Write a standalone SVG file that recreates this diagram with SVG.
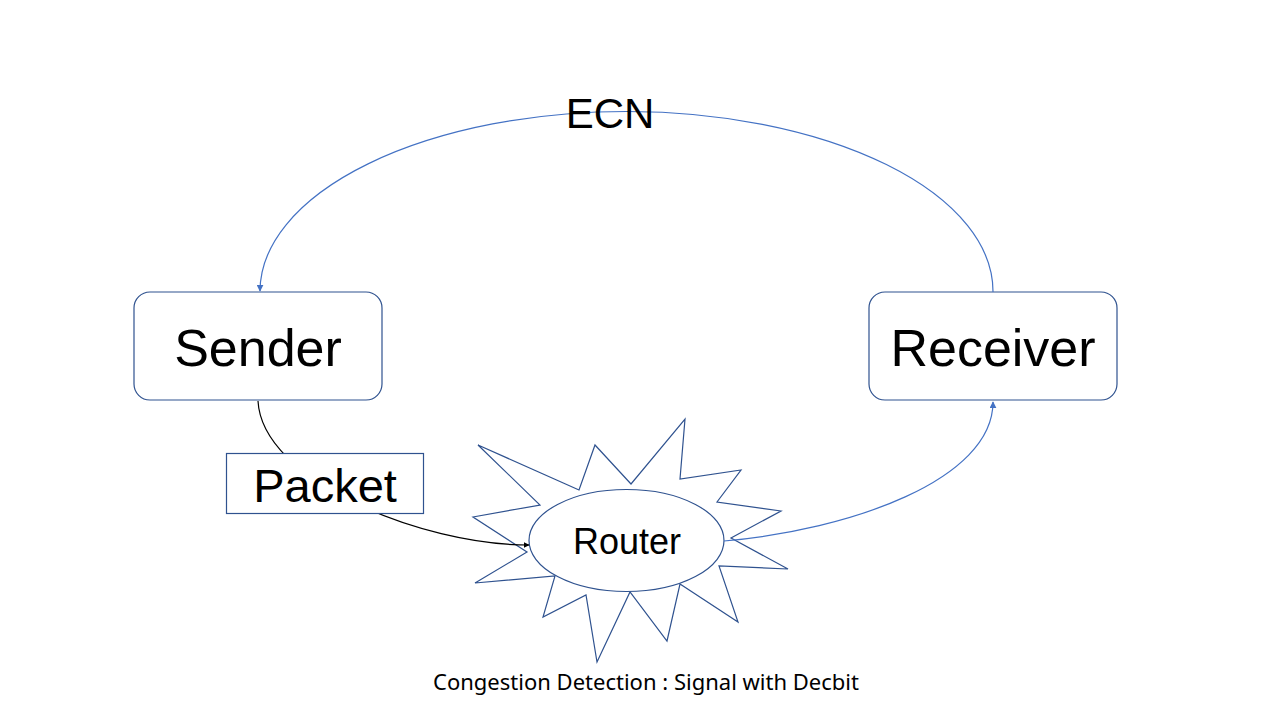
<svg xmlns="http://www.w3.org/2000/svg" width="1280" height="720" viewBox="0 0 1280 720">
<style>
.shape{fill:#fff;stroke:#2F528F;stroke-width:1.2}
.lbl{font-family:"Liberation Sans",Arial,sans-serif;fill:#000;text-anchor:middle}
.blue{fill:none;stroke:#4472C4;stroke-width:1.2}
.black{fill:none;stroke:#000;stroke-width:1.2}
</style>
<defs>
<marker id="ab" viewBox="0 0 10 10" refX="9" refY="5" markerWidth="7" markerHeight="7" markerUnits="userSpaceOnUse" orient="auto"><path d="M0,0 L10,5 L0,10 z" fill="#4472C4"/></marker>
<marker id="ak" viewBox="0 0 10 10" refX="9" refY="5" markerWidth="6" markerHeight="6" markerUnits="userSpaceOnUse" orient="auto"><path d="M0,0 L10,5 L0,10 z" fill="#000"/></marker>
</defs>
<rect width="1280" height="720" fill="#fff"/>
<g id="sender">
<rect class="shape" x="134" y="292" width="248" height="108" rx="16"/>
<text class="lbl" x="258" y="366" font-size="52">Sender</text>
</g>
<g id="receiver">
<rect class="shape" x="869" y="292" width="248" height="108" rx="16"/>
<text class="lbl" x="993" y="366" font-size="52">Receiver</text>
</g>
<g id="router">
<polygon class="shape" points="685,419 680,479 741,470 717,502 781,511 731,538 788,569 719,566 738,622 680,584 667,641 630,592 597,662 586,595 543,617 555,576 475,583 527,552 473,517 540,505 478,445 579,490 595,445 631,484"/>
<ellipse class="shape" cx="626.5" cy="540.5" rx="97.5" ry="51"/>
<text class="lbl" x="627" y="554" font-size="36">Router</text>
</g>
<g id="connectors">
<path class="blue" d="M993,292 A366.5,180 0 0 0 260,291" marker-end="url(#ab)"/>
<path class="black" d="M258,401 C262,480 420,545 529,545" marker-end="url(#ak)"/>
<path class="blue" d="M724,541 C850,530 993,480 993,402" marker-end="url(#ab)"/>
</g>
<g id="packet">
<rect class="shape" x="226.5" y="453.5" width="197" height="60"/>
<text class="lbl" x="325" y="502" font-size="47">Packet</text>
</g>
<g id="ecn">
<text class="lbl" x="610" y="128" font-size="42">ECN</text>
</g>
<g id="caption">
<text x="646" y="690" font-family="'Noto Sans','DejaVu Sans',sans-serif" font-size="21" text-anchor="middle" textLength="426" lengthAdjust="spacingAndGlyphs" fill="#000">Congestion Detection : Signal with Decbit</text>
</g>
</svg>
